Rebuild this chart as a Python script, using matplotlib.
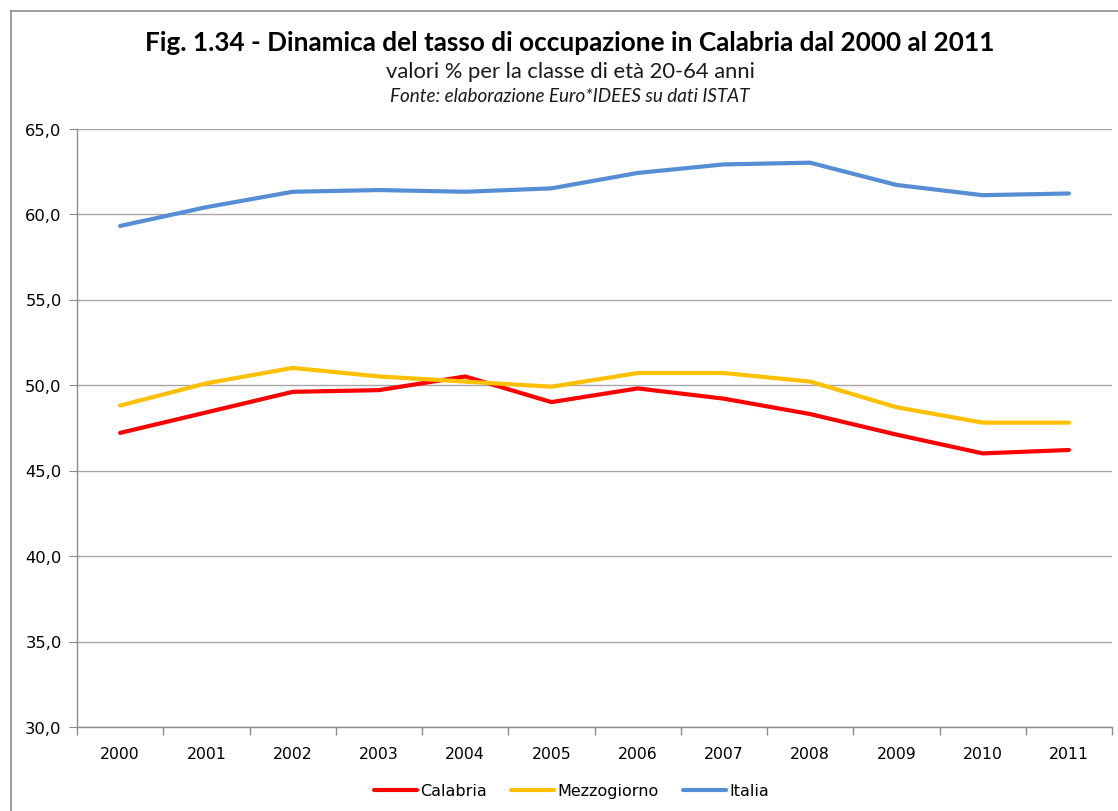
import matplotlib
matplotlib.use("Agg")
import matplotlib.pyplot as plt
from matplotlib.lines import Line2D
from matplotlib.ticker import FixedLocator, FuncFormatter

years = ["2000", "2001", "2002", "2003", "2004", "2005",
         "2006", "2007", "2008", "2009", "2010", "2011"]
calabria = [47.2, 48.4, 49.6, 49.7, 50.5, 49.0, 49.8, 49.2, 48.3, 47.1, 46.0, 46.2]
mezzogiorno = [48.8, 50.1, 51.0, 50.5, 50.2, 49.9, 50.7, 50.7, 50.2, 48.7, 47.8, 47.8]
italia = [59.3, 60.4, 61.3, 61.4, 61.3, 61.5, 62.4, 62.9, 63.0, 61.7, 61.1, 61.2]

series = [
    ("Calabria", calabria, "#FF0000"),
    ("Mezzogiorno", mezzogiorno, "#FFC000"),
    ("Italia", italia, "#558ED5"),
]

W, H = 1118, 812
plt.rcParams["font.family"] = ["Lato", "DejaVu Sans"]

fig = plt.figure(figsize=(W / 100, H / 100), dpi=100)
fig.patch.set_facecolor("white")

# outer chart frame (left and top edges visible)
frame_col = "#8C8C8C"
fig.add_artist(Line2D([11 / W, 11 / W], [0, 1 - 12 / H], transform=fig.transFigure,
                      color=frame_col, lw=1.2))
fig.add_artist(Line2D([11 / W, 1], [1 - 12 / H, 1 - 12 / H], transform=fig.transFigure,
                      color=frame_col, lw=1.2))

ax = fig.add_axes([77 / W, 1 - 728 / H, (1112 - 77) / W, (728 - 129.5) / H])

x = list(range(len(years)))
for name, values, color in series:
    ax.plot(x, values, color=color, lw=3, label=name, solid_capstyle="round")

ax.set_xlim(-0.5, len(years) - 0.5)
ax.set_ylim(30, 65)
ax.set_yticks([30, 35, 40, 45, 50, 55, 60, 65])
ax.yaxis.set_major_formatter(FuncFormatter(lambda v, _: f"{v:.1f}".replace(".", ",")))
ax.grid(axis="y", color="#A6A6A6", lw=1)
ax.set_axisbelow(True)

ax.set_xticks(x)
ax.set_xticklabels(years, family="DejaVu Sans")
ax.xaxis.set_minor_locator(FixedLocator([i - 0.5 for i in range(len(years) + 1)]))
ax.tick_params(axis="x", which="major", length=0, pad=14, labelsize=11.3)
ax.tick_params(axis="x", which="minor", length=6, color="#8C8C8C", width=1)
ax.tick_params(axis="y", length=6, color="#8C8C8C", labelsize=11.8, pad=5)
for lbl in ax.get_yticklabels():
    lbl.set_family("DejaVu Sans")

for side in ("top", "right"):
    ax.spines[side].set_visible(False)
for side in ("left", "bottom"):
    ax.spines[side].set_color("#8C8C8C")
    ax.spines[side].set_linewidth(1)

cx = 570 / W
fig.text(cx, 1 - 43 / H, "Fig. 1.34 - Dinamica del tasso di occupazione in Calabria dal 2000 al 2011",
         ha="center", va="center", fontsize=18.8, fontweight="bold")
fig.text(cx, 1 - 72 / H, "valori % per la classe di età 20-64 anni",
         ha="center", va="center", fontsize=15.8, color="#1A1A1A")
fig.text(cx, 1 - 96 / H, "Fonte: elaborazione Euro*IDEES su dati ISTAT",
         ha="center", va="center", fontsize=13.6, style="italic", color="#1A1A1A")

ax.legend(loc="center", bbox_to_anchor=(571.5 / W, 1 - 792 / H), bbox_transform=fig.transFigure,
          ncol=3, frameon=False, prop={"family": "DejaVu Sans", "size": 11.5},
          handlelength=2.7, handletextpad=0.2, columnspacing=1.5, borderpad=0)

fig.savefig("out.png", dpi=100, facecolor="white")
